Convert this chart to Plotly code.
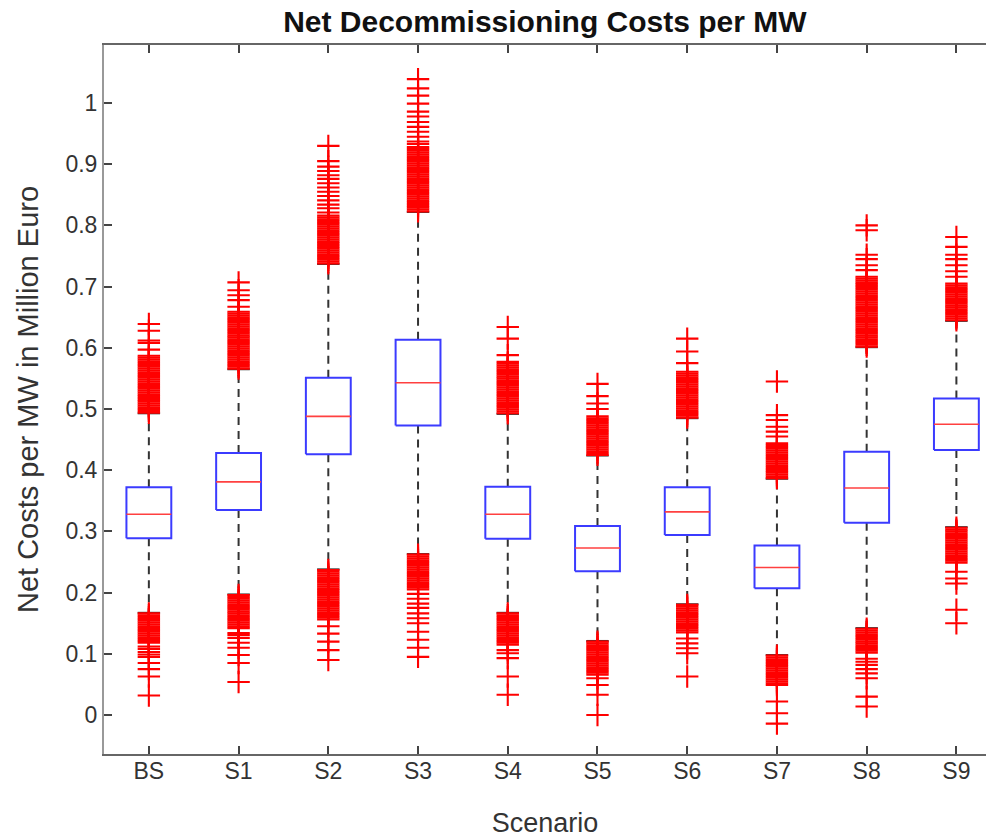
import plotly.graph_objects as go

categories = ["BS", "S1", "S2", "S3", "S4", "S5", "S6", "S7", "S8", "S9"]
q1 = [0.289, 0.335, 0.426, 0.473, 0.288, 0.235, 0.294, 0.207, 0.314, 0.433]
median = [0.328, 0.381, 0.488, 0.543, 0.328, 0.273, 0.332, 0.241, 0.371, 0.475]
q3 = [0.372, 0.428, 0.551, 0.613, 0.373, 0.309, 0.372, 0.277, 0.430, 0.517]
whisker_low = [0.167, 0.197, 0.238, 0.263, 0.167, 0.121, 0.181, 0.098, 0.142, 0.307]
whisker_high = [0.493, 0.565, 0.737, 0.822, 0.492, 0.424, 0.485, 0.386, 0.601, 0.644]
y_ticks = [0, 0.1, 0.2, 0.3, 0.4, 0.5, 0.6, 0.7, 0.8, 0.9, 1.0]
y_tick_labels = ["0", "0.1", "0.2", "0.3", "0.4", "0.5", "0.6", "0.7", "0.8", "0.9", "1"]

out_BS = [0.494, 0.497, 0.500, 0.503, 0.506, 0.509, 0.512, 0.515, 0.518, 0.521, 0.524, 0.527,
          0.530, 0.533, 0.536, 0.539, 0.542, 0.545, 0.548, 0.551, 0.554, 0.557, 0.560, 0.563,
          0.566, 0.569, 0.572, 0.575, 0.578, 0.581, 0.584, 0.587, 0.597, 0.608, 0.612, 0.628, 0.639,
          0.166, 0.163, 0.160, 0.157, 0.154, 0.151, 0.148, 0.145, 0.142, 0.139, 0.136, 0.133,
          0.130, 0.127, 0.124, 0.121, 0.118, 0.112, 0.108, 0.103, 0.099, 0.095, 0.085, 0.075,
          0.063, 0.032]
out_S1 = [0.566, 0.569, 0.572, 0.575, 0.578, 0.581, 0.584, 0.587, 0.590, 0.593, 0.596, 0.599,
          0.602, 0.605, 0.608, 0.611, 0.614, 0.617, 0.620, 0.623, 0.626, 0.629, 0.632, 0.635,
          0.638, 0.641, 0.644, 0.647, 0.650, 0.653, 0.656, 0.659, 0.667, 0.678, 0.686, 0.694, 0.707,
          0.196, 0.193, 0.190, 0.187, 0.184, 0.181, 0.178, 0.175, 0.172, 0.169, 0.166, 0.163,
          0.160, 0.157, 0.154, 0.151, 0.148, 0.145, 0.142, 0.134, 0.131, 0.126, 0.118, 0.110,
          0.098, 0.085, 0.054]
out_S2 = [0.738, 0.741, 0.744, 0.747, 0.750, 0.753, 0.756, 0.759, 0.762, 0.765, 0.768, 0.771,
          0.774, 0.777, 0.780, 0.783, 0.786, 0.789, 0.792, 0.795, 0.798, 0.801, 0.804, 0.807,
          0.810, 0.813, 0.816, 0.821, 0.828, 0.834, 0.841, 0.848, 0.855, 0.862, 0.869, 0.876,
          0.882, 0.889, 0.896, 0.905, 0.930,
          0.237, 0.234, 0.231, 0.228, 0.225, 0.222, 0.219, 0.216, 0.213, 0.210, 0.207, 0.204,
          0.201, 0.198, 0.195, 0.192, 0.189, 0.186, 0.183, 0.180, 0.177, 0.174, 0.171, 0.168,
          0.165, 0.162, 0.159, 0.156, 0.145, 0.133, 0.120, 0.106, 0.090]
out_S3 = [0.823, 0.826, 0.829, 0.832, 0.835, 0.838, 0.841, 0.844, 0.847, 0.850, 0.853, 0.856,
          0.859, 0.862, 0.865, 0.868, 0.871, 0.874, 0.877, 0.880, 0.883, 0.886, 0.889, 0.892,
          0.895, 0.898, 0.901, 0.904, 0.907, 0.910, 0.913, 0.916, 0.919, 0.922, 0.925, 0.928,
          0.933, 0.937, 0.945, 0.953, 0.961, 0.969, 0.978, 0.986, 0.999, 1.012, 1.024, 1.039,
          0.262, 0.259, 0.256, 0.253, 0.250, 0.247, 0.244, 0.241, 0.238, 0.235, 0.232, 0.229,
          0.226, 0.223, 0.220, 0.217, 0.214, 0.211, 0.208, 0.205, 0.198, 0.190, 0.182, 0.175,
          0.166, 0.158, 0.150, 0.136, 0.123, 0.110, 0.095]
out_S4 = [0.493, 0.496, 0.499, 0.502, 0.505, 0.508, 0.511, 0.514, 0.517, 0.520, 0.523, 0.526,
          0.529, 0.532, 0.535, 0.538, 0.541, 0.544, 0.547, 0.550, 0.553, 0.556, 0.559, 0.562,
          0.565, 0.568, 0.571, 0.574, 0.577, 0.588, 0.615, 0.634,
          0.166, 0.163, 0.160, 0.157, 0.154, 0.151, 0.148, 0.145, 0.142, 0.139, 0.136, 0.133,
          0.130, 0.127, 0.124, 0.121, 0.118, 0.115, 0.106, 0.101, 0.093, 0.063, 0.033]
out_S5 = [0.425, 0.428, 0.431, 0.434, 0.437, 0.440, 0.443, 0.446, 0.449, 0.452, 0.455, 0.458,
          0.461, 0.464, 0.467, 0.470, 0.473, 0.476, 0.479, 0.482, 0.485, 0.488, 0.500, 0.509,
          0.521, 0.541,
          0.120, 0.117, 0.114, 0.111, 0.108, 0.105, 0.102, 0.099, 0.096, 0.093, 0.090, 0.087,
          0.084, 0.081, 0.078, 0.075, 0.072, 0.069, 0.066, 0.060, 0.049, 0.033, 0.000]
out_S6 = [0.486, 0.489, 0.492, 0.495, 0.498, 0.501, 0.504, 0.507, 0.510, 0.513, 0.516, 0.519,
          0.522, 0.525, 0.528, 0.531, 0.534, 0.537, 0.540, 0.543, 0.546, 0.549, 0.552, 0.555,
          0.558, 0.561, 0.575, 0.594, 0.615,
          0.180, 0.177, 0.174, 0.171, 0.168, 0.165, 0.162, 0.159, 0.156, 0.153, 0.150, 0.147,
          0.144, 0.141, 0.138, 0.135, 0.125, 0.117, 0.109, 0.101, 0.063]
out_S7 = [0.387, 0.390, 0.393, 0.396, 0.399, 0.402, 0.405, 0.408, 0.411, 0.414, 0.417, 0.420,
          0.423, 0.426, 0.429, 0.432, 0.435, 0.438, 0.441, 0.444, 0.455, 0.463, 0.471, 0.482,
          0.490, 0.545,
          0.097, 0.094, 0.091, 0.088, 0.085, 0.082, 0.079, 0.076, 0.073, 0.070, 0.067, 0.064,
          0.061, 0.058, 0.055, 0.052, 0.049, 0.022, 0.003, -0.014]
out_S8 = [0.602, 0.605, 0.608, 0.611, 0.614, 0.617, 0.620, 0.623, 0.626, 0.629, 0.632, 0.635,
          0.638, 0.641, 0.644, 0.647, 0.650, 0.653, 0.656, 0.659, 0.662, 0.665, 0.668, 0.671,
          0.674, 0.677, 0.680, 0.683, 0.686, 0.689, 0.692, 0.695, 0.698, 0.701, 0.704, 0.707,
          0.710, 0.713, 0.716, 0.727, 0.735, 0.745, 0.752, 0.792, 0.800,
          0.141, 0.138, 0.135, 0.132, 0.129, 0.126, 0.123, 0.120, 0.117, 0.114, 0.111, 0.108,
          0.105, 0.102, 0.092, 0.087, 0.082, 0.075, 0.068, 0.060, 0.030, 0.014]
out_S9 = [0.645, 0.648, 0.651, 0.654, 0.657, 0.660, 0.663, 0.666, 0.669, 0.672, 0.675, 0.678,
          0.681, 0.684, 0.687, 0.690, 0.693, 0.696, 0.699, 0.702, 0.705, 0.716, 0.725, 0.735,
          0.745, 0.752, 0.765, 0.781,
          0.306, 0.303, 0.300, 0.297, 0.294, 0.291, 0.288, 0.285, 0.282, 0.279, 0.276, 0.273,
          0.270, 0.267, 0.264, 0.261, 0.258, 0.255, 0.252, 0.249, 0.234, 0.223, 0.215, 0.172,
          0.150]
outliers = [out_BS, out_S1, out_S2, out_S3, out_S4, out_S5, out_S6, out_S7, out_S8, out_S9]

BOX_HALF = 0.25
CAP_HALF = 0.125

box_x, box_y = [], []
med_x, med_y = [], []
wh_x, wh_y = [], []
cap_x, cap_y = [], []
out_x, out_y = [], []
for i in range(len(categories)):
    c = i + 1
    box_x += [c - BOX_HALF, c + BOX_HALF, c + BOX_HALF, c - BOX_HALF, c - BOX_HALF, None]
    box_y += [q1[i], q1[i], q3[i], q3[i], q1[i], None]
    med_x += [c - BOX_HALF, c + BOX_HALF, None]
    med_y += [median[i], median[i], None]
    wh_x += [c, c, None, c, c, None]
    wh_y += [q3[i], whisker_high[i], None, q1[i], whisker_low[i], None]
    cap_x += [c - CAP_HALF, c + CAP_HALF, None, c - CAP_HALF, c + CAP_HALF, None]
    cap_y += [whisker_high[i], whisker_high[i], None, whisker_low[i], whisker_low[i], None]
    out_x += [c] * len(outliers[i])
    out_y += outliers[i]

fig = go.Figure()
fig.add_trace(go.Scatter(x=wh_x, y=wh_y, mode="lines",
                         line=dict(color="#333333", width=2, dash="8px,6px"), hoverinfo="skip"))
fig.add_trace(go.Scatter(x=cap_x, y=cap_y, mode="lines",
                         line=dict(color="#333333", width=2), hoverinfo="skip"))
fig.add_trace(go.Scatter(x=box_x, y=box_y, mode="lines",
                         line=dict(color="#3b3bff", width=2), hoverinfo="skip"))
fig.add_trace(go.Scatter(x=med_x, y=med_y, mode="lines",
                         line=dict(color="#ff4040", width=1.6), hoverinfo="skip"))
fig.add_trace(go.Scatter(x=out_x, y=out_y, mode="markers",
                         marker=dict(symbol="cross-thin", size=16,
                                     line=dict(color="#ff0000", width=2.1)),
                         hoverinfo="skip"))

font_family = "Liberation Sans, Arial, sans-serif"
fig.update_layout(
    width=986, height=838,
    margin=dict(l=104, r=0, t=45, b=84),
    paper_bgcolor="white", plot_bgcolor="white",
    showlegend=False,
    font=dict(family=font_family, color="#333333"),
    title=dict(text="<b>Net Decommissioning Costs per MW</b>",
               font=dict(size=30, color="#111111", family=font_family),
               x=0.5526, xanchor="center", y=0.974, yanchor="middle", yref="container"),
)
fig.update_xaxes(
    range=[0.5, 10.33],
    tickmode="array", tickvals=list(range(1, len(categories) + 1)), ticktext=categories,
    ticks="inside", ticklen=8, tickwidth=1.5, tickcolor="#444444",
    showline=True, linecolor="#666666", linewidth=2, mirror="ticks",
    showgrid=False, zeroline=False,
    tickfont=dict(size=23, color="#333333"),
    ticklabelstandoff=-5,
    title=dict(text="Scenario", font=dict(size=27, color="#333333"), standoff=31),
)
fig.update_yaxes(
    range=[-0.0637, 1.0948],
    tickmode="array", tickvals=y_ticks, ticktext=y_tick_labels,
    ticks="inside", ticklen=8, tickwidth=1.5, tickcolor="#444444",
    showline=True, linecolor="#999999", linewidth=2, mirror=False,
    showgrid=False, zeroline=False,
    tickfont=dict(size=23, color="#333333"),
    title=dict(text="Net Costs per MW in Million Euro", font=dict(size=29, color="#333333"), standoff=18),
)

fig.write_html("out.html", config={"displayModeBar": False},
               post_script="document.body.style.margin='0';")
